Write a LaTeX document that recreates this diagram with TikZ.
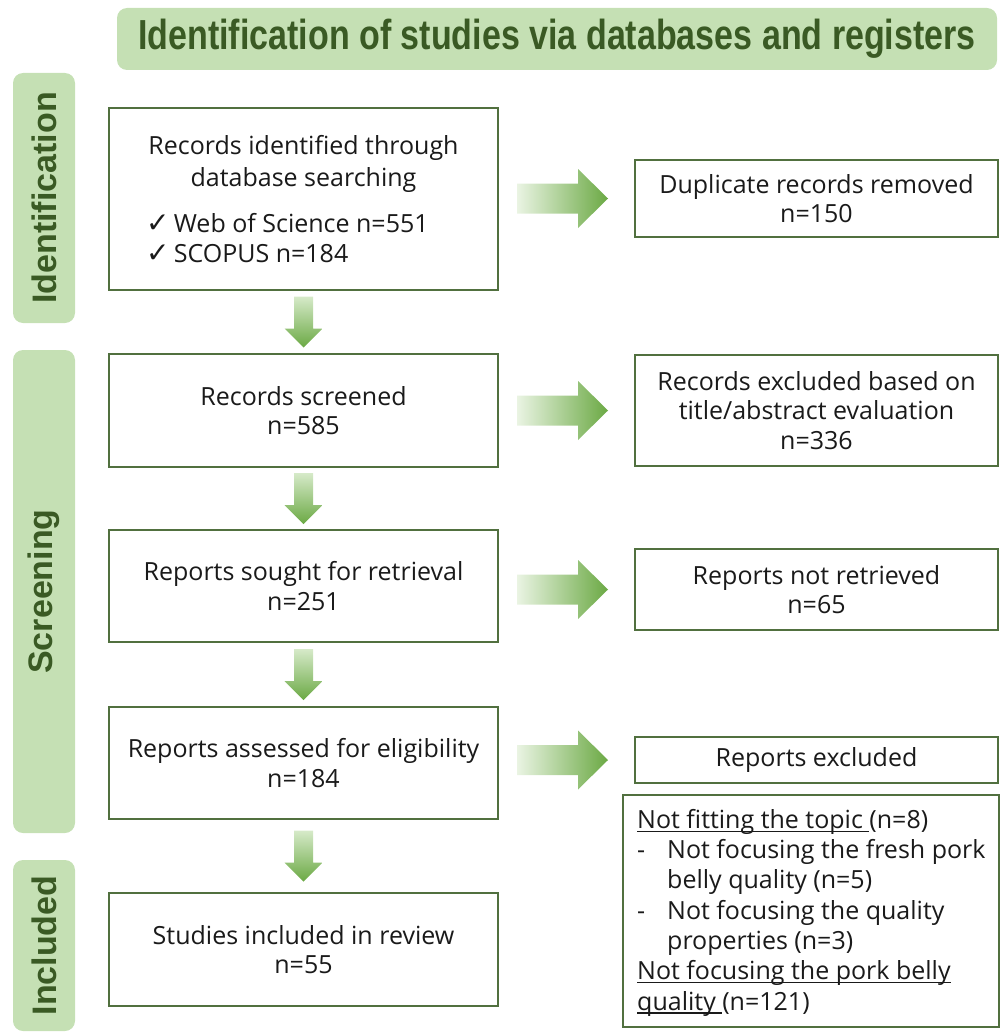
\documentclass[tikz,border=0pt]{standalone}
\usepackage{fontspec}
\usepackage{graphicx}
\setmainfont{Open Sans}
\newfontfamily\labfont{Liberation Sans}
\newfontfamily\symfont{DejaVu Sans}
\usetikzlibrary{calc}
\definecolor{lab}{HTML}{C5E0B4}
\definecolor{labtxt}{HTML}{3A5A24}
\definecolor{bord}{HTML}{51703F}
\definecolor{arrL}{HTML}{EAF4E3}
\definecolor{arrR}{HTML}{6BA944}
\definecolor{arrT}{HTML}{D6EAC9}
\definecolor{txt}{HTML}{1A1A1A}
\newcommand\myul[1]{\setbox0\hbox{#1}\rlap{\rule[-3.5pt]{\wd0}{1.3pt}}\box0}
\newcommand\chk{{\symfont\fontsize{28}{30}\selectfont ✓}}
\tikzset{
  x=1pt, y=1pt,
  box/.style={draw=bord, line width=2pt, fill=white, inner sep=0pt, align=center,
    text=txt, font=\fontsize{25}{29.5}\selectfont},
  txt/.style={inner sep=0pt, text=txt, font=\fontsize{25}{30.3}\selectfont},
  lbl/.style={fill=lab, rounded corners=10pt, inner sep=0pt, text=labtxt,
    font=\labfont\fontsize{34}{34}\selectfont\bfseries},
  rarrow/.pic={\shade[left color=arrL, right color=arrR]
    (-45.5,-15) -- (15.5,-15) -- (15.5,-29.5) -- (45.5,0) -- (15.5,29.5) -- (15.5,15) -- (-45.5,15) -- cycle;},
  darrow/.pic={\shade[top color=arrT, bottom color=arrR]
    (-9.5,25.5) -- (9.5,25.5) -- (9.5,-6.5) -- (19,-6.5) -- (0,-25.5) -- (-19,-6.5) -- (-9.5,-6.5) -- cycle;}
}
\begin{document}
\begin{tikzpicture}
\useasboundingbox (0,0) rectangle (1000,-1033);
% title and stage labels
\node[lbl, minimum width=880, minimum height=62] (title) at (557,-39)
  {\scalebox{0.81}[1]{\fontsize{42}{42}\selectfont Identification of studies via databases and registers}};
\node[lbl, rotate=90, minimum width=250, minimum height=62] (lid) at (44,-198) {Identification};
\node[lbl, rotate=90, minimum width=483, minimum height=62] (lsc) at (44,-591.5) {Screening};
\node[lbl, rotate=90, minimum width=171, minimum height=62] (lin) at (44,-945.5) {Included};
% left column
\node[box, minimum width=389, minimum height=182] (B1) at (303.5,-199) {};
\node[txt, align=center, font=\fontsize{25}{32}\selectfont] (B1a) at ($(B1.north)+(0,-57)$) {Records identified through\\database searching};
\node[txt, align=left, anchor=west] (B1b) at ($(B1.north west)+(38,-131)$)
  {\chk\,Web of Science n=551\\\chk\,SCOPUS n=184};
\node[box, minimum width=389, minimum height=113] (B2) at (303.5,-410.5) {Records screened\\n=585};
\node[box, minimum width=389, minimum height=112] (B3) at (303.5,-586) {Reports sought for retrieval\\n=251};
\node[box, minimum width=389, minimum height=112] (B4) at (303.5,-763) {Reports assessed for eligibility\\n=184};
\node[box, minimum width=389, minimum height=113] (B5) at (303.5,-949.5) {Studies included in review\\n=55};
% right column
\node[box, minimum width=363, minimum height=77] (R1) at (816.5,-198.5) {Duplicate records removed\\n=150};
\node[box, minimum width=363, minimum height=111] (R2) at (816.5,-410.5) {Records excluded based on\\title/abstract evaluation\\n=336};
\node[box, minimum width=363, minimum height=81] (R3) at (816.5,-589.5) {Reports not retrieved\\n=65};
\node[box, minimum width=363, minimum height=46] (R4) at (816.5,-760) {Reports excluded};
\node[box, minimum width=376, minimum height=232] (R5) at (811,-911) {};
\node[txt, align=left, anchor=north west] (R5t) at ($(R5.north west)+(15,-15)$)
  {\myul{Not fitting the topic\ }(n=8)\\
   \makebox[30pt][l]{-}Not focusing the fresh pork\\
   \hspace*{30pt}belly quality (n=5)\\
   \makebox[30pt][l]{-}Not focusing the quality\\
   \hspace*{30pt}properties (n=3)\\
   \myul{Not focusing the pork belly}\\
   \myul{quality\ }(n=121)};
% block arrows
\coordinate (ax) at (562.5,0);
\pic at (ax |- R1) {rarrow};
\pic at (ax |- R2) {rarrow};
\pic at (ax |- R3) {rarrow};
\pic at (ax |- R4) {rarrow};
\pic at ($(B1.south)!0.5!(B2.north)$) {darrow};
\pic at ($(B2.south)!0.5!(B3.north)$) {darrow};
\pic at ($(B3.south)!0.5!(B4.north)$) {darrow};
\pic at ($(B4.south)!0.5!(B5.north)$) {darrow};
\end{tikzpicture}
\end{document}
